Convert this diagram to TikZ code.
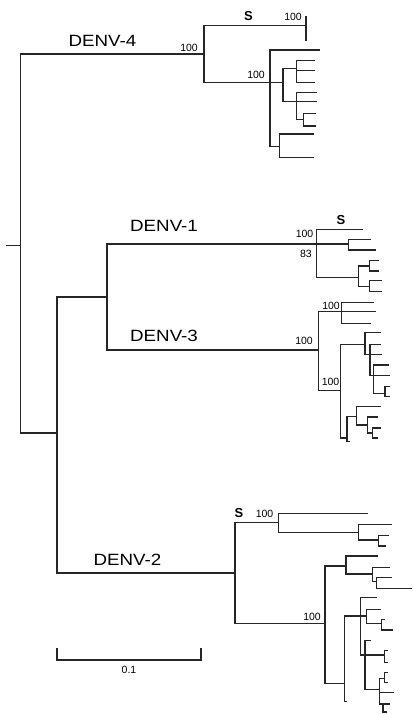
\documentclass[tikz,border=0pt]{standalone}
\usepackage{fontspec}
\setmainfont{Liberation Sans}
\newfontfamily\widesans[FakeStretch=1.15]{Liberation Sans}
\begin{document}
\begin{tikzpicture}[x=1pt,y=-1pt,
  br/.style={line width=1.05pt,draw=black!85,line cap=rect},
  boot/.style={font=\fontsize{10.5}{12}\selectfont,inner sep=0pt,anchor=base east},
  sero/.style={font=\widesans\fontsize{16.3}{18}\selectfont,inner sep=0pt,anchor=base west},
  sym/.style={font=\bfseries\fontsize{13}{14}\selectfont,inner sep=0pt,anchor=base}]
\useasboundingbox (0,0) rectangle (412,714);
% backbone
\coordinate (rt) at (7,245.5); \coordinate (R0) at (20.5,245.5);
\coordinate (d4) at (204,54); \coordinate (low) at (57,433);
\coordinate (mid) at (107,297); \coordinate (d2) at (235,573);
\coordinate (d1) at (316.7,244); \coordinate (d3) at (318.3,350);
% DENV-4
\coordinate (d4a) at (306,25.7); \coordinate (d4a1) at (306,17); \coordinate (d4a2) at (306,40);
\coordinate (d4b) at (270,82.7); \coordinate (d4b1) at (319,50);
\coordinate (d4c) at (283,82.7);
\coordinate (d4d) at (296.7,68.3); \coordinate (d4d1) at (314,60.7); \coordinate (d4d2) at (314,70.7); \coordinate (d4d3) at (314,82.7);
\coordinate (d4e) at (296.7,101.7); \coordinate (d4e1) at (316.7,92.3); \coordinate (d4e2) at (316.7,101.7);
\coordinate (d4f) at (303.3,119.3); \coordinate (d4f1) at (315,113.3); \coordinate (d4f2) at (315,126);
\coordinate (d4g) at (279.3,146.7); \coordinate (d4g1) at (313.3,134); \coordinate (d4g2) at (313.3,157.3);
% DENV-1
\coordinate (d1s) at (362.7,229.3);
\coordinate (d1a) at (348.3,244); \coordinate (d1a1) at (370,239.3); \coordinate (d1a2) at (375,250);
\coordinate (d1b) at (358.3,277.3);
\coordinate (d1c) at (369.3,266); \coordinate (d1c1) at (378.3,260.7); \coordinate (d1c2) at (378.3,271);
\coordinate (d1d) at (369.3,286.7); \coordinate (d1d1) at (381.7,280.7); \coordinate (d1d2) at (381.7,291.7);
% DENV-3
\coordinate (d3a) at (341.7,311.7); \coordinate (d3a1) at (373.3,302.3); \coordinate (d3a2) at (375,311.7); \coordinate (d3a3) at (370,323.3);
\coordinate (d3b) at (340.7,390.7);
\coordinate (d3c) at (365,344.3); \coordinate (d3c1) at (380,332.3);
\coordinate (d3d) at (370,354.3); \coordinate (d3d1) at (380,344.3); \coordinate (d3d2) at (381.7,354.3);
\coordinate (d3e) at (373.3,375.7); \coordinate (d3e1) at (388.3,365); \coordinate (d3e2) at (389.3,375.7);
\coordinate (d3f) at (385,393.3); \coordinate (d3f1) at (389.3,386.7); \coordinate (d3f2) at (389.3,396.7);
\coordinate (d3g) at (347,438); \coordinate (d3g0) at (349,441.7);
\coordinate (d3h) at (356.7,416.7); \coordinate (d3h1) at (380,406.7);
\coordinate (d3i) at (367.3,425); \coordinate (d3i1) at (377.3,417);
\coordinate (d3j) at (372.7,433); \coordinate (d3j1) at (380.7,428); \coordinate (d3j2) at (377,438);
% DENV-2
\coordinate (d2a) at (278.3,522.7); \coordinate (d2a1) at (367.3,513.3);
\coordinate (d2b) at (358.3,532.7); \coordinate (d2b1) at (391.7,524.3);
\coordinate (d2c) at (378.3,540); \coordinate (d2c1) at (388.3,535.7); \coordinate (d2c2) at (385,546);
\coordinate (d2L) at (325,623.3);
\coordinate (d2m) at (346,566); \coordinate (d2m1) at (377.3,556);
\coordinate (d2n) at (372.7,574); \coordinate (d2n1) at (389,567.7);
\coordinate (d2o) at (376.7,581.7); \coordinate (d2o1) at (391.7,577.3); \coordinate (d2o2) at (411,588.3);
\coordinate (d2p) at (344.3,683.3); \coordinate (d2p0) at (346,701.7);
\coordinate (d2q) at (360.7,616); \coordinate (d2q1) at (376.7,597.3);
\coordinate (d2r) at (366.7,616); \coordinate (d2r1) at (380.7,609.3);
\coordinate (d2s) at (381.7,623.3); \coordinate (d2s1) at (384,619.3); \coordinate (d2s2) at (392,630);
\coordinate (d2u) at (365,655); \coordinate (d2u1) at (370,640.7);
\coordinate (d2t) at (384.3,655); \coordinate (d2t1) at (387.7,650.7); \coordinate (d2t2) at (387.7,662.3);
\coordinate (d2v) at (379.3,689.3);
\coordinate (d2w) at (384.3,678.3); \coordinate (d2w1) at (387.7,672.7); \coordinate (d2w2) at (387.7,682.3);
\coordinate (d2v1) at (393.3,692.7);
\coordinate (d2x) at (383,704); \coordinate (d2x1) at (389,704); \coordinate (d2x2) at (386,712);
% branches (one path, so overlaps are stroked once)
\draw[br] (rt) -- (R0)
 foreach \a/\b in {R0/d4,R0/low,low/mid,low/d2,mid/d1,mid/d3,
 d4/d4a,d4a/d4a1,d4a/d4a2,d4/d4b,d4b/d4b1,d4b/d4c,d4c/d4d,d4d/d4d1,d4d/d4d2,d4d/d4d3,
 d4c/d4e,d4e/d4e1,d4e/d4e2,d4e/d4f,d4f/d4f1,d4f/d4f2,d4b/d4g,d4g/d4g1,d4g/d4g2,
 d1/d1s,d1/d1a,d1a/d1a1,d1a/d1a2,d1/d1b,d1b/d1c,d1c/d1c1,d1c/d1c2,d1b/d1d,d1d/d1d1,d1d/d1d2,
 d3/d3a,d3a/d3a1,d3a/d3a2,d3a/d3a3,d3/d3b,d3b/d3c,d3c/d3c1,d3c/d3d,d3d/d3d1,d3d/d3d2,
 d3d/d3e,d3e/d3e1,d3e/d3e2,d3e/d3f,d3f/d3f1,d3f/d3f2,d3b/d3g,d3g/d3g0,d3g/d3h,d3h/d3h1,
 d3h/d3i,d3i/d3i1,d3i/d3j,d3j/d3j1,d3j/d3j2,
 d2/d2a,d2a/d2a1,d2a/d2b,d2b/d2b1,d2b/d2c,d2c/d2c1,d2c/d2c2,d2/d2L,d2L/d2m,d2m/d2m1,
 d2m/d2n,d2n/d2n1,d2n/d2o,d2o/d2o1,d2o/d2o2,d2L/d2p,d2p/d2p0,d2p/d2q,d2q/d2q1,d2q/d2r,
 d2r/d2r1,d2r/d2s,d2s/d2s1,d2s/d2s2,d2q/d2u,d2u/d2u1,d2u/d2t,d2t/d2t1,d2t/d2t2,d2u/d2v,
 d2v/d2w,d2w/d2w1,d2w/d2w2,d2v/d2v1,d2v/d2x,d2x/d2x1,d2x/d2x2}
 {(\a) |- (\b)};
% serotype labels
\node[sero] (l4) at (68.3,46.7) {DENV-4};
\node[sero] (l1) at (130,231.7) {DENV-1};
\node[sero] (l3) at (130,341.7) {DENV-3};
\node[sero] (l2) at (93.3,565) {DENV-2};
% bootstrap values
\node[boot] (b1) at (198,52) {100};
\node[boot] (b2) at (302,21) {100};
\node[boot] (b3) at (265,79) {100};
\node[boot] (b4) at (313.5,237) {100};
\node[boot] (b5) at (312,257) {83};
\node[boot] (b6) at (313,344) {100};
\node[boot] (b7) at (340,309) {100};
\node[boot] (b8) at (339.5,385.7) {100};
\node[boot] (b9) at (273.5,517.3) {100};
\node[boot] (b10) at (321,620) {100};
% S markers
\node[sym] (s4) at (248.5,20.7) {S};
\node[sym] (s1) at (341,224) {S};
\node[sym] (s2) at (239,517) {S};
% scale bar
\coordinate (sb1) at (57,660); \coordinate (sb2) at (201,660);
\coordinate (sb1t) at (57,648); \coordinate (sb2t) at (201,648);
\draw[br,line cap=butt] (sb1t) -- (sb1) -- (sb2) -- (sb2t);
\node[font=\fontsize{10.5}{12}\selectfont,inner sep=0pt,anchor=base] (sbl) at (129,673) {0.1};
\end{tikzpicture}
\end{document}
